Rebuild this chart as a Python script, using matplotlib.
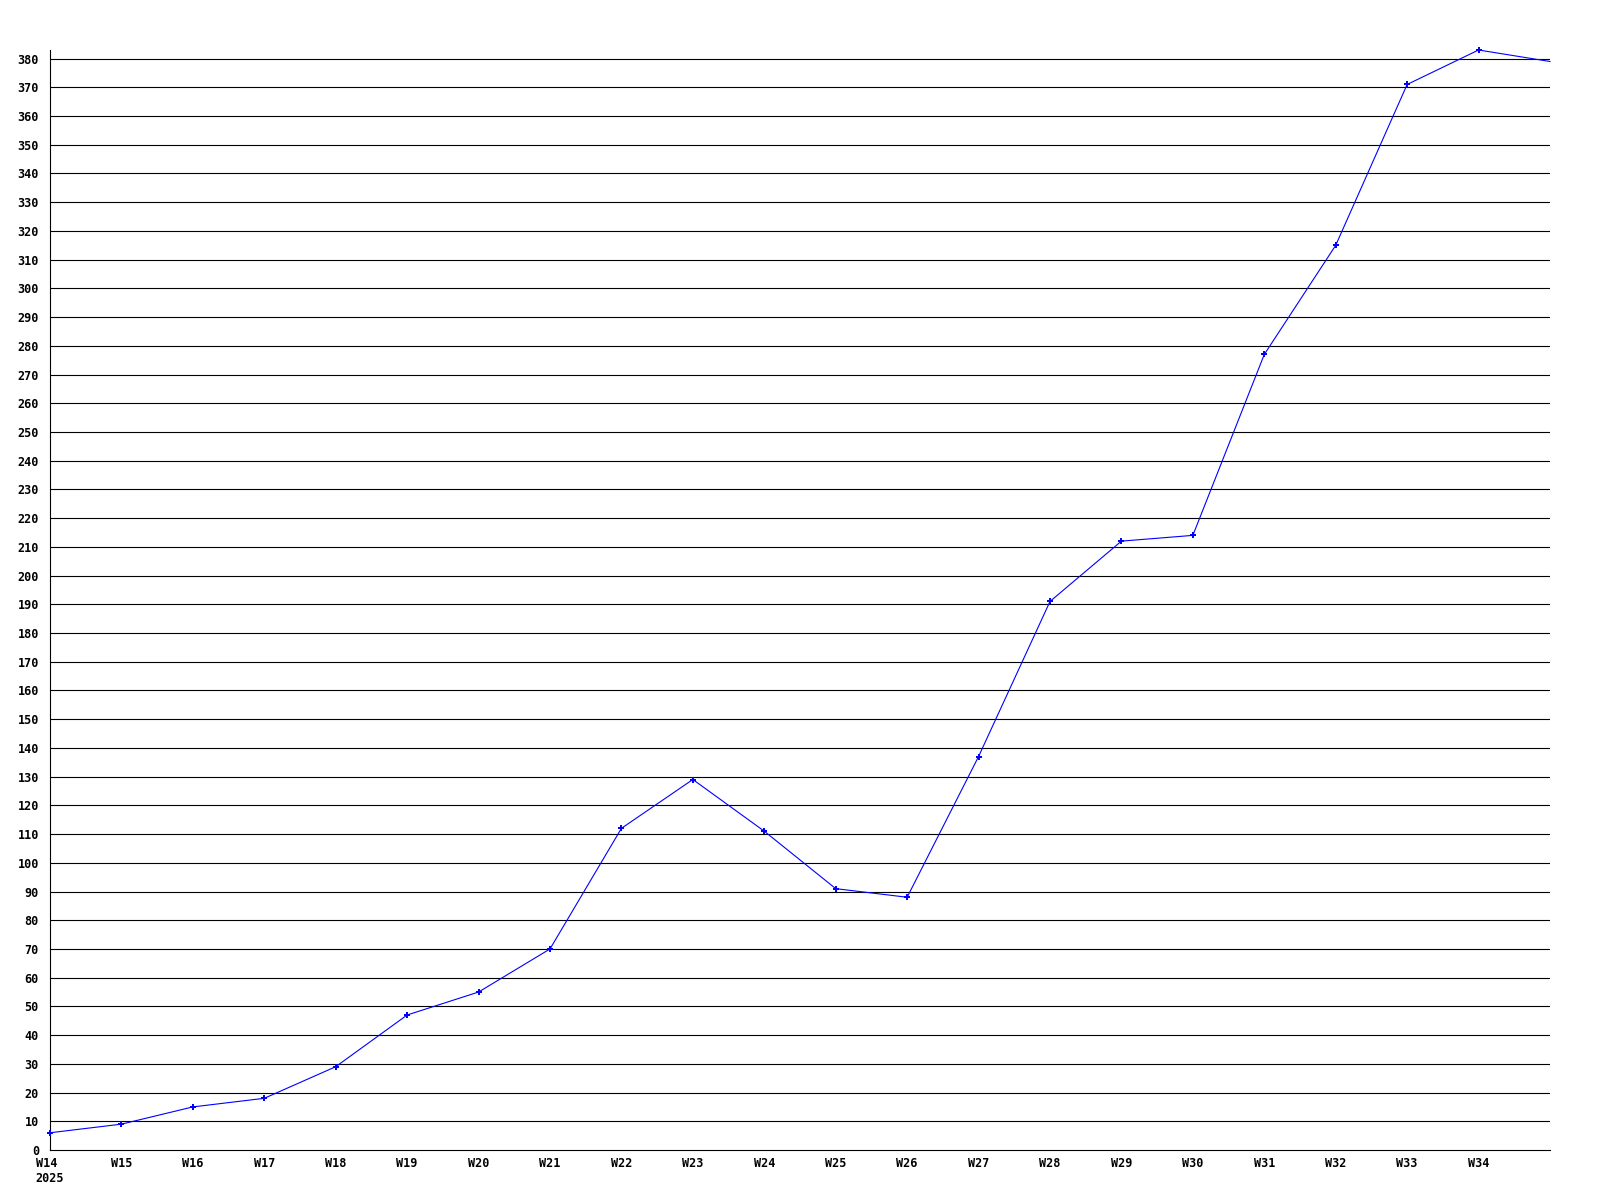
import matplotlib
matplotlib.use("Agg")
import matplotlib.pyplot as plt
import numpy as np

weeks = ['W14', 'W15', 'W16', 'W17', 'W18', 'W19', 'W20', 'W21', 'W22', 'W23', 'W24',
         'W25', 'W26', 'W27', 'W28', 'W29', 'W30', 'W31', 'W32', 'W33', 'W34', 'W35']
values = [6, 9, 15, 18, 29, 47, 55, 70, 112, 129, 111,
          91, 88, 137, 191, 212, 214, 277, 315, 371, 383, 379]
year = '2025'

fig = plt.figure(figsize=(16, 12), dpi=100)
ax = fig.add_axes([50 / 1600, 1 - 1150 / 1200, 1500 / 1600, 1100 / 1200])

x = np.arange(len(weeks))
ax.set_xlim(0, len(weeks) - 1)
ax.set_ylim(0, max(values))

yt = np.arange(0, 381, 10)
for y in yt[1:]:
    ax.axhline(y, color='black', linewidth=0.8, zorder=1)

# last point is cut off at the right edge, no marker there
ax.plot(x, values, color='#0000ff', linewidth=0.8, marker='P', markersize=4,
        markeredgewidth=0, markevery=list(range(len(weeks) - 1)), zorder=3,
        clip_on=False)

ax.set_yticks(yt)
ax.set_yticklabels([str(v) for v in yt])
labels = weeks[:-1]
labels[0] = labels[0] + '\n' + year
ax.set_xticks(x[:-1])
ax.set_xticklabels(labels)

for lab in ax.get_xticklabels() + ax.get_yticklabels():
    lab.set_fontfamily('DejaVu Sans Mono')
    lab.set_fontweight('bold')
    lab.set_fontsize(8.5)
ax.get_xticklabels()[0].set_multialignment('left')

ax.tick_params(axis='both', length=0)
ax.tick_params(axis='y', pad=8)
ax.tick_params(axis='x', pad=5)

for s in ['top', 'right']:
    ax.spines[s].set_visible(False)
for s in ['left', 'bottom']:
    ax.spines[s].set_linewidth(0.8)
    ax.spines[s].set_color('black')

fig.savefig('out.png', dpi=100)
